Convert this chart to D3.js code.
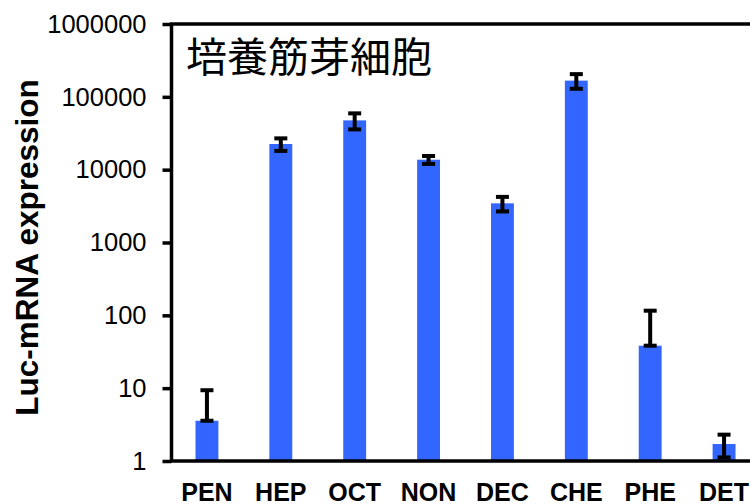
<!DOCTYPE html>
<html>
<head>
<meta charset="utf-8">
<script src="https://cdn.jsdelivr.net/npm/d3@7"></script>
<style>
  html, body { margin: 0; padding: 0; background: #fff; }
  svg { display: block; }
</style>
</head>
<body>
<svg id="chart" width="750" height="504"></svg>
<script>
// Luc-mRNA expression per compound, cultured myoblasts (log scale)
const categories = ["PEN", "HEP", "OCT", "NON", "DEC", "CHE", "PHE", "DET"];
const means      = [3.57, 22500, 47500, 13700, 3450, 167000, 38.3, 1.71];
const errors     = [5.8, 4400, 11800, 1700, 780, 38000, 77.5, 0.59];
const yTicks     = [1, 10, 100, 1000, 10000, 100000, 1000000];
const titleText  = "培養筋芽細胞";
const yAxisTitle = "Luc-mRNA expression";

const svg = d3.select("#chart");
const W = 750, H = 504;
const plot = { left: 171.5, top: 24, bottom: 461, right: 761 };

const x = d3.scaleBand()
  .domain(categories)
  .range([170, plot.right])
  .paddingInner(0.69)
  .paddingOuter(0.345);

const y = d3.scaleLog()
  .domain([1, 1000000])
  .range([plot.bottom, plot.top]);

const latin = "Arial, 'Liberation Sans', Helvetica, sans-serif";

// bars
svg.append("g")
  .selectAll("rect")
  .data(categories)
  .join("rect")
  .attr("x", d => x(d))
  .attr("width", x.bandwidth())
  .attr("y", (d, i) => y(means[i]))
  .attr("height", (d, i) => y(1) - y(means[i]))
  .attr("fill", "#3366ff");

// error bars; a lower bound at or below zero cannot be shown on a log axis,
// so the lower cap then sits on the bar top
const capHalf = 6.5;
const eb = svg.append("g")
  .attr("stroke", "#000")
  .attr("stroke-width", 4)
  .attr("fill", "none");
categories.forEach((c, i) => {
  const cx = x(c) + x.bandwidth() / 2;
  const hi = means[i] + errors[i];
  const loRaw = means[i] - errors[i];
  const lo = loRaw > 0 ? loRaw : means[i];
  eb.append("line")
    .attr("x1", cx).attr("x2", cx)
    .attr("y1", y(lo)).attr("y2", y(hi));
  [lo, hi].forEach(v => {
    eb.append("line")
      .attr("x1", cx - capHalf).attr("x2", cx + capHalf)
      .attr("y1", y(v)).attr("y2", y(v));
  });
});

// y axis ticks and labels
const yAxis = d3.axisLeft(y)
  .tickValues(yTicks)
  .tickFormat(d3.format("d"))
  .tickSize(9)
  .tickPadding(16);
const gy = svg.append("g")
  .attr("transform", `translate(${plot.left},0)`)
  .call(yAxis);
gy.select(".domain").remove();
gy.selectAll(".tick line").attr("stroke", "#000").attr("stroke-width", 3.5);
gy.selectAll(".tick text")
  .attr("font-family", latin)
  .attr("font-size", 25.5)
  .attr("fill", "#000");

// frame: top, left, bottom
svg.append("path")
  .attr("d", `M${W + 5},${plot.top}H${plot.left}V${plot.bottom}H${W + 5}`)
  .attr("fill", "none")
  .attr("stroke", "#000")
  .attr("stroke-width", 3.5);

// category labels
svg.append("g")
  .selectAll("text")
  .data(categories)
  .join("text")
  .attr("x", d => x(d) + x.bandwidth() / 2)
  .attr("y", 501)
  .attr("text-anchor", "middle")
  .attr("font-family", latin)
  .attr("font-weight", "bold")
  .attr("font-size", 25)
  .attr("fill", "#000")
  .text(d => d);

// y axis title
svg.append("text")
  .attr("transform", `translate(38,247.5) rotate(-90)`)
  .attr("text-anchor", "middle")
  .attr("font-family", latin)
  .attr("font-weight", "bold")
  .attr("font-size", 31.5)
  .attr("fill", "#000")
  .text(yAxisTitle);

// panel title
svg.append("text")
  .attr("x", 186)
  .attr("y", 72)
  .attr("font-family", "'Noto Sans CJK JP', 'Noto Sans CJK SC', sans-serif")
  .attr("font-size", 41)
  .attr("fill", "#000")
  .text(titleText);
</script>
</body>
</html>
